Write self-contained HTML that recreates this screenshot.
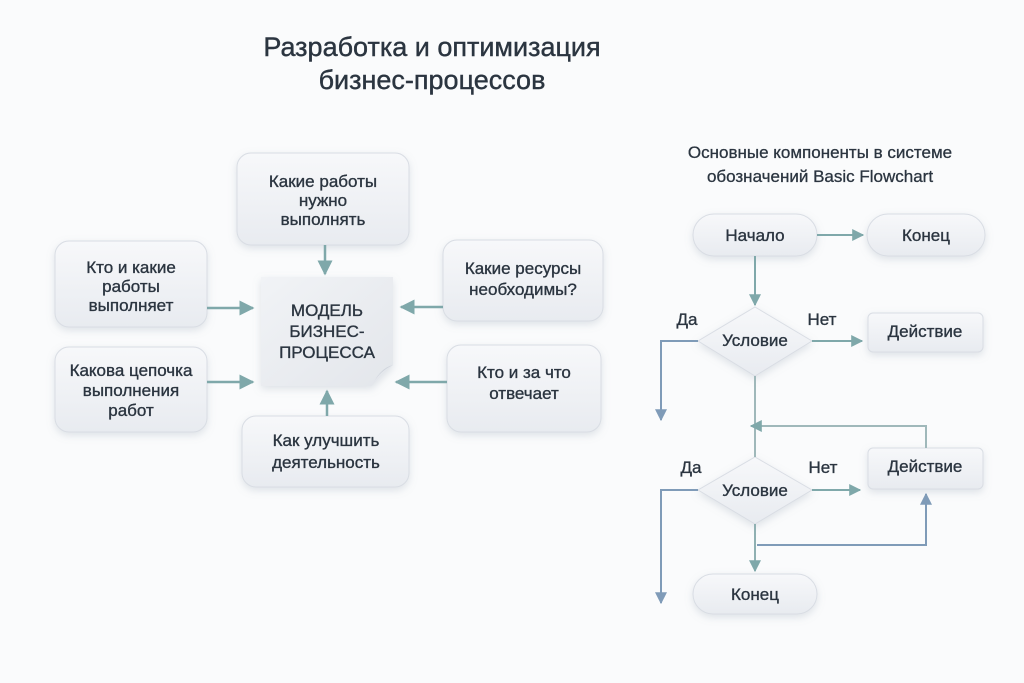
<!DOCTYPE html>
<html><head><meta charset="utf-8"><style>
html,body{margin:0;padding:0;background:#fafbfc;}
svg{display:block;font-family:"Liberation Sans","DejaVu Sans",sans-serif;}
</style></head><body>
<svg width="1024" height="683" viewBox="0 0 1024 683" xmlns="http://www.w3.org/2000/svg">
<defs>
<linearGradient id="g" x1="0" y1="0" x2="0" y2="1"><stop offset="0" stop-color="#f7f8fa"/><stop offset="1" stop-color="#e8ebf0"/></linearGradient>
<linearGradient id="n" x1="0" y1="0" x2="1" y2="1"><stop offset="0" stop-color="#f1f3f6"/><stop offset="1" stop-color="#e3e6eb"/></linearGradient>
<filter id="s" x="-20%" y="-20%" width="140%" height="150%"><feDropShadow dx="0" dy="3" stdDeviation="4" flood-color="#8a96a8" flood-opacity="0.25"/></filter>
<marker id="a" viewBox="0 0 10 10" refX="9" refY="5" markerWidth="6" markerHeight="6" orient="auto-start-reverse"><path d="M0,0L10,5L0,10z" fill="#7fa8aa"/></marker>
<marker id="b" viewBox="0 0 10 10" refX="9" refY="5" markerWidth="6" markerHeight="6" orient="auto-start-reverse"><path d="M0,0L10,5L0,10z" fill="#7f9bb8"/></marker>
</defs>
<rect width="1024" height="683" fill="#fafbfc"/>
<g fill="#2b3540" font-size="27" text-anchor="middle" stroke="#2b3540" stroke-width="0.4">
<text x="432" y="56">Разработка и оптимизация</text>
<text x="432" y="89">бизнес-процессов</text>
</g>
<g fill="url(#g)" stroke="#d9dde4" stroke-width="1" filter="url(#s)">
<rect x="237" y="153" width="172" height="92" rx="14"/>
<rect x="55" y="241" width="152" height="86" rx="14"/>
<rect x="55" y="347" width="152" height="85" rx="14"/>
<rect x="443" y="240" width="160" height="81" rx="14"/>
<rect x="447" y="345" width="154" height="87" rx="14"/>
<rect x="242" y="416" width="167" height="71" rx="14"/>
</g>
<path d="M261,277H393V365L372,386H261Z" fill="url(#n)" filter="url(#s)"/>
<path d="M372,386Q378,372 393,365Q380,368 372,386Z" fill="#cfd4dc"/>
<g fill="#2b3540" font-size="17" text-anchor="middle" stroke="#2b3540" stroke-width="0.35">
<text x="323" y="187">Какие работы</text><text x="323" y="206">нужно</text><text x="323" y="225">выполнять</text>
<text x="131" y="273">Кто и какие</text><text x="131" y="292">работы</text><text x="131" y="311">выполняет</text>
<text x="131" y="376">Какова цепочка</text><text x="131" y="396">выполнения</text><text x="131" y="416">работ</text>
<text x="523" y="274">Какие ресурсы</text><text x="523" y="295">необходимы?</text>
<text x="524" y="378">Кто и за что</text><text x="524" y="399">отвечает</text>
<text x="326" y="446">Как улучшить</text><text x="326" y="468">деятельность</text>
<text x="327" y="316">МОДЕЛЬ</text><text x="327" y="337">БИЗНЕС-</text><text x="327" y="358">ПРОЦЕССА</text>
</g>
<g stroke="#7fa8aa" stroke-width="2.5" fill="none" marker-end="url(#a)">
<path d="M325,245V274"/><path d="M207,308H253"/><path d="M207,382H253"/>
<path d="M443,307H401"/><path d="M447,382H396"/><path d="M327,416V391"/>
</g>
<g fill="#2b3540" font-size="17" text-anchor="middle" stroke="#2b3540" stroke-width="0.3">
<text x="820" y="158">Основные компоненты в системе</text>
<text x="820" y="182">обозначений Basic Flowchart</text>
</g>
<g fill="url(#g)" stroke="#d9dde4" filter="url(#s)">
<rect x="693" y="214" width="124" height="42" rx="21"/>
<rect x="867" y="214" width="118" height="42" rx="21"/>
<rect x="868" y="313" width="115" height="39" rx="5"/>
<rect x="868" y="448" width="115" height="41" rx="5"/>
<rect x="693" y="574" width="124" height="40" rx="20"/>
<path d="M755,307L812,341L755,376L698,341Z"/>
<path d="M755,457L812,490L755,524L698,490Z"/>
</g>
<g stroke-width="2" fill="none">
<path d="M817,235H863" stroke="#7fa8aa" marker-end="url(#a)"/>
<path d="M755,256V305" stroke="#7fa8aa" marker-end="url(#a)"/>
<path d="M812,341H862" stroke="#7fa8aa" marker-end="url(#a)"/>
<path d="M698,341H661V420" stroke="#7f9bb8" marker-end="url(#b)"/>
<path d="M755,376V457" stroke="#9fb8ba"/>
<path d="M926,448V426H751" stroke="#9fb8ba" marker-end="url(#a)"/>
<path d="M812,490H860" stroke="#7fa8aa" marker-end="url(#a)"/>
<path d="M698,490H661V603" stroke="#7f9bb8" marker-end="url(#b)"/>
<path d="M755,524V571" stroke="#8fb0b2" marker-end="url(#a)"/>
<path d="M757,545H926V494" stroke="#7f9bb8" marker-end="url(#b)"/>
</g>
<g fill="#2b3540" font-size="17" text-anchor="middle" stroke="#2b3540" stroke-width="0.35">
<text x="755" y="241">Начало</text><text x="926" y="241">Конец</text>
<text x="755" y="346">Условие</text><text x="755" y="496">Условие</text>
<text x="925" y="337">Действие</text><text x="925" y="472">Действие</text>
<text x="755" y="600">Конец</text>
<text x="687" y="325">Да</text><text x="822" y="325">Нет</text>
<text x="691" y="473">Да</text><text x="823" y="473">Нет</text>
</g>
</svg>
</body></html>
